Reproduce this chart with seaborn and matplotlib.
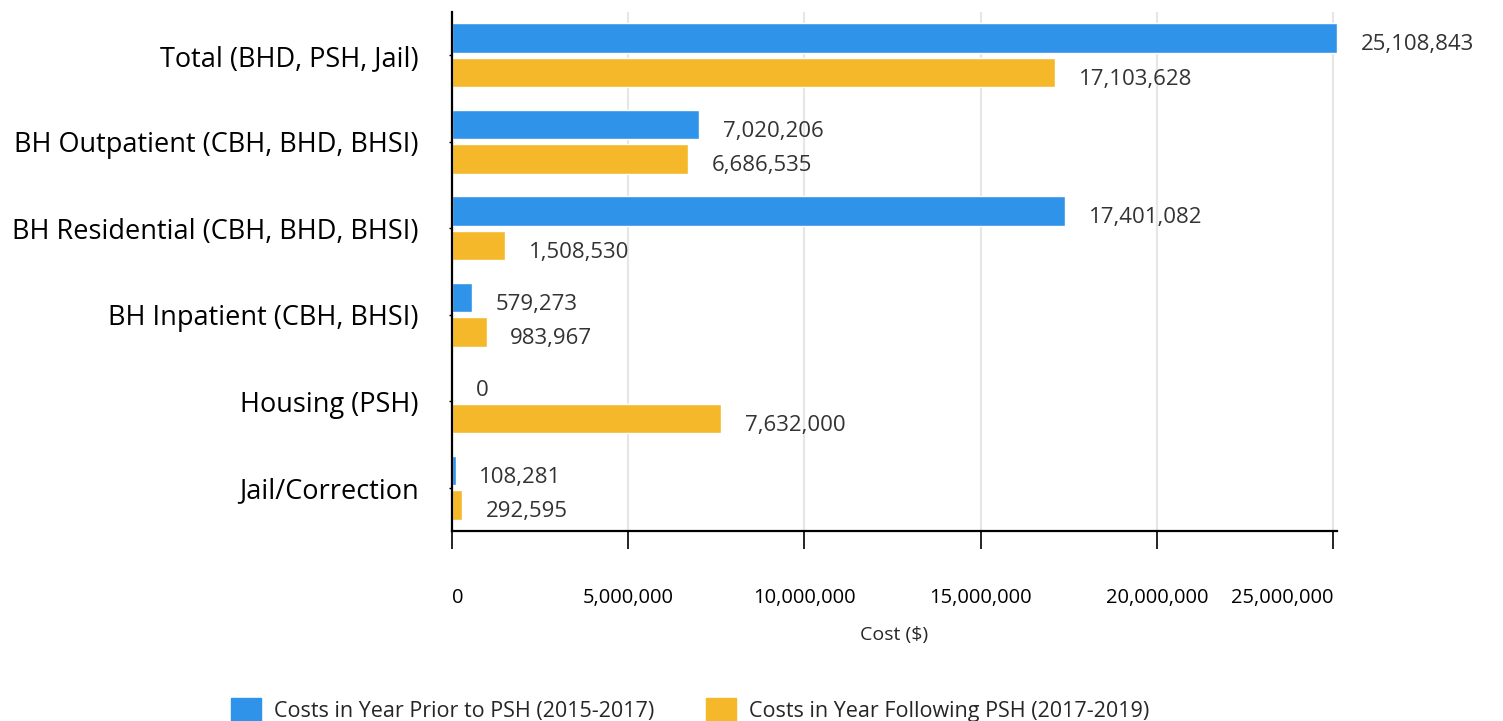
import numpy as np
import pandas as pd
import matplotlib.pyplot as plt
import seaborn as sns

# data
categories = ['Total (BHD, PSH, Jail)', 'BH Outpatient (CBH, BHD, BHSI)',
              'BH Residential (CBH, BHD, BHSI)', 'BH Inpatient (CBH, BHSI)',
              'Housing (PSH)', 'Jail/Correction']
prior = [25108843, 7020206, 17401082, 579273, 0, 108281]
following = [17103628, 6686535, 1508530, 983967, 7632000, 292595]
series = ['Costs in Year Prior to PSH (2015-2017)',
          'Costs in Year Following PSH (2017-2019)']
x_ticks = [0, 5000000, 10000000, 15000000, 20000000, 25000000]

df = pd.DataFrame({
    'category': categories * 2,
    'cost': prior + following,
    'period': [series[0]] * len(categories) + [series[1]] * len(categories),
})

BLUE = '#2f93ea'
YELLOW = '#f5b82a'

sns.set_style('white')
plt.rcParams['font.family'] = ['Open Sans', 'DejaVu Sans']

fig = plt.figure(figsize=(15.03, 7.21), dpi=100)
ax = fig.add_axes([452 / 1503, 190 / 721, 885 / 1503, 519 / 721])

sns.barplot(data=df, y='category', x='cost', hue='period', orient='h',
            palette=[BLUE, YELLOW], width=0.8, gap=0.15, legend=False,
            saturation=1, ax=ax)

# value labels sit right of the bar, a touch below centre
for cont in ax.containers:
    labels = ax.bar_label(cont, fmt='{:,.0f}', padding=17, fontsize=16,
                          color='#333333')
    for t in labels:
        t.xyann = (17, -5)

ax.set_xlim(0, max(prior))
ax.set_ylim(len(categories) - 0.5, -0.5)
ax.set_xticks(x_ticks, [f'{v:,}' for v in x_ticks])
xl = ax.get_xticklabels()
xl[0].set_ha('left')
xl[-1].set_ha('right')

ax.tick_params(axis='x', length=13, width=1.2, pad=28, labelsize=14.5,
               colors='black', bottom=True)
ax.tick_params(axis='y', length=2, width=1, pad=22, labelsize=19.5,
               colors='black', left=True)
ax.set_xlabel('Cost ($)', fontsize=14, labelpad=13)
ax.set_ylabel('')

ax.grid(axis='x', color='#e6e6e6', linewidth=1.5)
ax.set_axisbelow(True)
for side in ['top', 'right']:
    ax.spines[side].set_visible(False)
for side in ['left', 'bottom']:
    ax.spines[side].set_color('black')
    ax.spines[side].set_linewidth(1.6)

handles = [plt.Rectangle((0, 0), 1, 1, color=c) for c in [BLUE, YELLOW]]
fig.legend(handles, series, loc='center', bbox_to_anchor=(0.459, 0.015),
           ncol=2, frameon=False, fontsize=15.5, handlelength=1.4,
           handleheight=1.4, handletextpad=0.6, columnspacing=2.4)

fig.savefig('out.png', dpi=100)
